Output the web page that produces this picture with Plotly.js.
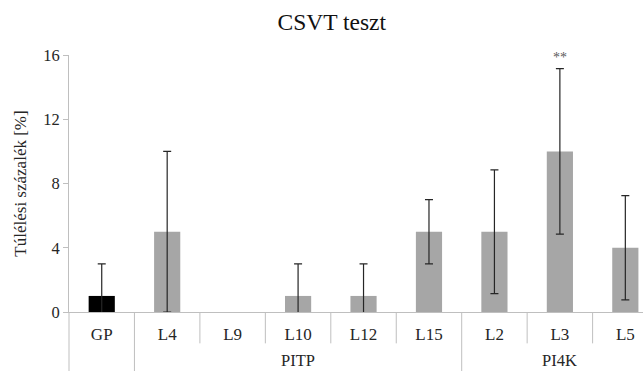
<!DOCTYPE html>
<html>
<head>
<meta charset="utf-8">
<script src="https://cdn.plot.ly/plotly-3.0.1.min.js"></script>
<style>html,body{margin:0;padding:0;background:#fff;}#chart{width:643px;height:371px;}</style>
</head>
<body>
<div id="chart"></div>
<script>
const categories = ["GP", "L4", "L9", "L10", "L12", "L15", "L2", "L3", "L5"];
const groups = ["", "PITP", "PITP", "PITP", "PITP", "PITP", "PI4K", "PI4K", "PI4K"];
const values = [1, 5, 0, 1, 1, 5, 5, 10, 4];
const errors = [2, 5, null, 2, 2, 2, 3.85, 5.15, 3.25];
const significance = ["", "", "", "", "", "", "", "**", ""];
const barColors = ["#000000", "#a6a6a6", "#a6a6a6", "#a6a6a6", "#a6a6a6", "#a6a6a6", "#a6a6a6", "#a6a6a6", "#a6a6a6"];

const serif = "Liberation Serif, Times New Roman, serif";
const lineCol = "#bfbfbf";
const textCol = "#262626";

const trace = {
  type: "bar",
  x: categories,
  y: values,
  marker: {color: barColors, line: {width: 0}},
  error_y: {type: "data", array: errors.map(e => e === null ? NaN : e), visible: true, color: "#262626", thickness: 1.2, width: 4},
  hoverinfo: "skip"
};

const shapes = [];
for (let i = 1; i < categories.length; i++) {
  const isGroupBoundary = groups[i] !== groups[i - 1];
  shapes.push({
    type: "line", xref: "x", yref: "paper",
    x0: i - 0.5, x1: i - 0.5, y0: 0, y1: isGroupBoundary ? -0.3 : -0.122,
    line: {color: lineCol, width: 1}
  });
}
shapes.push({type: "line", xref: "paper", yref: "paper", x0: 0, x1: 0, y0: 0, y1: -0.3, line: {color: lineCol, width: 1}});

const annotations = [];
const groupNames = [];
groups.forEach(g => { if (g && !groupNames.includes(g)) groupNames.push(g); });
groupNames.forEach(g => {
  const idx = groups.map((v, i) => v === g ? i : -1).filter(i => i >= 0);
  const center = (idx[0] + idx[idx.length - 1]) / 2;
  annotations.push({
    xref: "x", yref: "paper", x: center, y: -0.187, yanchor: "middle", borderpad: 0,
    text: g, showarrow: false, font: {family: serif, size: 16.5, color: textCol}
  });
});
significance.forEach((s, i) => {
  if (s) annotations.push({
    xref: "x", yref: "y", x: categories[i], y: values[i] + errors[i], yanchor: "bottom", yshift: 2,
    text: s, showarrow: false, font: {family: serif, size: 14, color: "#595959"}
  });
});

const layout = {
  width: 643, height: 371,
  margin: {l: 69, r: 0, t: 55, b: 59},
  paper_bgcolor: "#fff", plot_bgcolor: "#fff",
  showlegend: false,
  bargap: 0.6,
  title: {text: "CSVT teszt", font: {family: serif, size: 23.5, color: "#111"},
          x: 0.516, xanchor: "center", y: 0.94, yref: "container", yanchor: "middle"},
  xaxis: {
    type: "category", range: [-0.5, 8.27], fixedrange: true,
    showline: true, linecolor: lineCol, linewidth: 1,
    showgrid: false, zeroline: false, ticks: "",
    tickfont: {family: serif, size: 17, color: textCol},
    ticklabelstandoff: 7
  },
  yaxis: {
    range: [0, 16], dtick: 4, tick0: 0, fixedrange: true,
    showline: true, linecolor: lineCol, linewidth: 1,
    showgrid: false, zeroline: false,
    ticks: "outside", ticklen: 5, tickcolor: lineCol,
    tickfont: {family: serif, size: 16.5, color: textCol},
    title: {text: "Túlélési százalék [%]", font: {family: serif, size: 17, color: textCol}, standoff: 12}
  },
  shapes: shapes,
  annotations: annotations
};

Plotly.newPlot("chart", [trace], layout, {displayModeBar: false, staticPlot: true});
</script>
</body>
</html>
